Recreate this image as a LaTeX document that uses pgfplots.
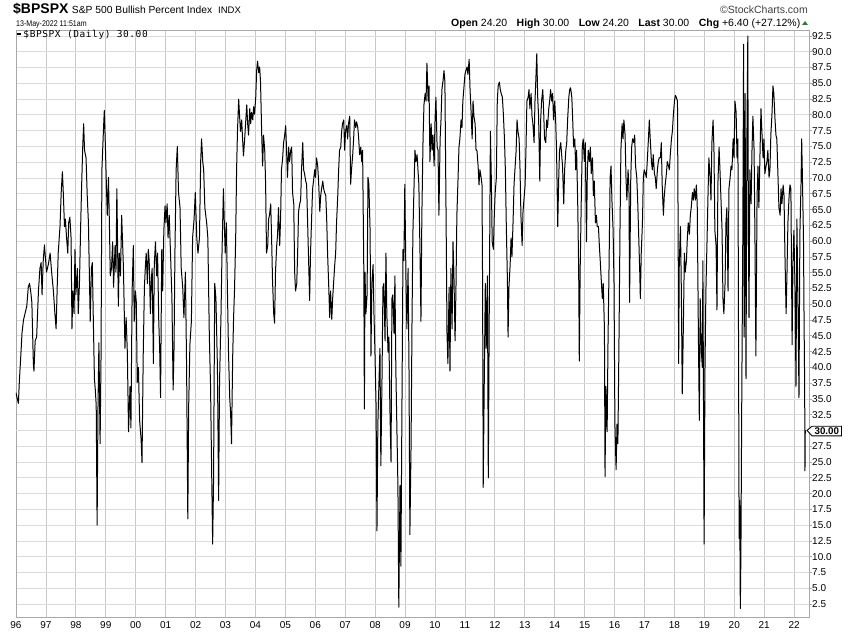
\documentclass[border=0pt]{standalone}
\usepackage{fontspec}
\setmainfont{Liberation Sans}
\newfontfamily\monofont[LetterSpace=6.1]{DejaVu Sans Mono}
\newfontfamily\narrowfont[FakeStretch=0.85]{Liberation Sans}
\usepackage{pgfplots}
\pgfplotsset{compat=1.18}

\definecolor{framegray}{HTML}{A8A8A8}
\definecolor{yeargrid}{HTML}{C8C8C8}
\definecolor{halfgrid}{HTML}{E4E4E4}
\definecolor{hgrid}{HTML}{DCDCDC}
\definecolor{upgreen}{HTML}{2E7D32}

\begin{document}
\begin{tikzpicture}
  \fill[white, use as bounding box] (-16pt,-16pt) rectangle (834pt,617pt);
  \begin{axis}[
    at={(0pt,0pt)}, anchor=south west,
    scale only axis,
    width=793pt, height=587pt,
    xmin=1996, xmax=2022.495,
    ymin=0.45, ymax=93.45,
    axis line style={draw=framegray},
    xtick={1996,1997,...,2022},
    xticklabels={96,97,98,99,00,01,02,03,04,05,06,07,08,09,10,11,12,13,14,15,16,17,18,19,20,21,22},
    minor x tick num=1,
    xmajorgrids, xminorgrids, ymajorgrids,
    major x grid style={draw=yeargrid, line width=0.8pt},
    minor x grid style={draw=halfgrid, line width=0.8pt},
    major y grid style={draw=hgrid, line width=0.8pt},
    % 30.0 is covered by the last-value tag, so it only gets a grid line
    ytick={2.5,5.0,...,27.5,32.5,35.0,...,92.5},
    extra y ticks={30},
    extra y tick labels={},
    extra y tick style={ytick style={draw=none}},
    yticklabel pos=right,
    ytick pos=right,
    tick align=outside,
    major tick length=3pt,
    minor tick length=0pt,
    xtick style={draw=none},
    ytick style={draw=framegray, line width=0.8pt},
    yticklabel style={anchor=west, inner sep=0pt, font=\fontsize{10}{12}\selectfont,
      /pgf/number format/.cd, fixed, fixed zerofill, precision=1, assume math mode=true},
    xticklabel style={anchor=north, inner sep=0pt, yshift=-1pt, font=\fontsize{10}{12}\selectfont},
  ]
  % S&P 500 Bullish Percent Index, daily
  \addplot[black, line width=1pt, line join=round] coordinates {
(1996.00,36.0)(1996.02,35.5)(1996.08,34.3)(1996.11,37.6)(1996.16,41.8)(1996.20,45.4)(1996.25,47.5)(1996.30,48.5)(1996.36,49.7)(1996.41,52.7)(1996.45,53.3)(1996.49,52.1)(1996.53,50.3)(1996.58,40.6)(1996.60,39.4)(1996.64,44.2)(1996.69,44.8)(1996.75,52.1)(1996.80,55.7)(1996.84,56.6)(1996.87,51.5)(1996.91,56.9)(1996.95,59.4)(1996.98,57.5)
(1997.02,55.1)(1997.08,56.3)(1997.14,58.1)(1997.19,55.1)(1997.25,52.1)(1997.30,48.5)(1997.34,46.1)(1997.38,53.3)(1997.41,58.1)(1997.47,62.3)(1997.51,67.7)(1997.55,71.0)(1997.58,67.7)(1997.62,62.3)(1997.65,63.5)(1997.69,60.5)(1997.73,58.1)(1997.76,62.9)(1997.80,63.8)(1997.84,60.5)(1997.87,46.1)(1997.90,52.1)(1997.94,48.5)(1997.97,58.7)
(1998.00,51.5)(1998.05,55.7)(1998.08,48.5)(1998.12,53.3)(1998.16,62.3)(1998.19,68.3)(1998.23,75.0)(1998.26,78.6)(1998.29,74.4)(1998.34,73.2)(1998.38,67.2)(1998.42,62.9)(1998.45,55.1)(1998.48,47.3)(1998.52,55.7)(1998.55,56.6)(1998.58,48.5)(1998.62,38.2)(1998.65,36.4)(1998.68,34.0)(1998.71,15.0)(1998.74,34.0)(1998.77,43.9)(1998.81,27.9)(1998.84,41.2)(1998.87,71.3)(1998.92,77.4)(1998.95,80.7)(1998.98,76.2)
(1999.02,68.9)(1999.05,64.1)(1999.09,70.1)(1999.12,62.9)(1999.15,54.5)(1999.19,55.7)(1999.23,59.9)(1999.26,52.7)(1999.31,59.3)(1999.34,55.1)(1999.37,68.3)(1999.42,49.7)(1999.45,58.1)(1999.49,54.5)(1999.53,64.1)(1999.59,55.7)(1999.64,43.0)(1999.68,47.9)(1999.72,42.4)(1999.76,29.8)(1999.81,37.0)(1999.84,30.4)(1999.88,52.1)(1999.92,59.3)(1999.95,47.3)(1999.99,52.1)
(2000.02,50.3)(2000.05,37.6)(2000.09,40.0)(2000.13,31.6)(2000.18,28.6)(2000.21,24.9)(2000.25,41.8)(2000.29,52.7)(2000.32,55.7)(2000.35,58.1)(2000.39,53.3)(2000.42,58.7)(2000.45,56.9)(2000.49,48.5)(2000.52,53.9)(2000.55,55.7)(2000.59,40.6)(2000.62,56.3)(2000.66,59.9)(2000.70,54.5)(2000.73,58.1)(2000.77,47.3)(2000.80,43.0)(2000.83,35.2)(2000.87,58.7)(2000.90,52.1)(2000.94,61.7)(2000.98,65.6)
(2001.01,62.9)(2001.05,65.9)(2001.08,60.5)(2001.12,64.1)(2001.17,56.9)(2001.21,50.9)(2001.25,36.4)(2001.28,43.0)(2001.31,58.1)(2001.35,71.3)(2001.39,75.0)(2001.43,67.7)(2001.48,65.3)(2001.52,55.7)(2001.57,52.7)(2001.61,47.9)(2001.66,55.1)(2001.70,40.0)(2001.74,16.0)(2001.77,34.0)(2001.81,43.6)(2001.86,47.3)(2001.90,60.5)(2001.95,63.5)(2001.99,67.7)
(2002.04,60.5)(2002.08,58.1)(2002.13,60.5)(2002.17,72.6)(2002.20,76.2)(2002.24,72.6)(2002.27,71.3)(2002.31,65.3)(2002.37,62.9)(2002.41,60.5)(2002.46,44.8)(2002.50,37.0)(2002.54,22.5)(2002.57,12.0)(2002.60,21.9)(2002.64,53.3)(2002.68,50.9)(2002.73,40.0)(2002.77,18.9)(2002.80,37.6)(2002.85,48.5)(2002.88,57.5)(2002.93,68.3)(2002.96,62.9)(2002.99,58.1)
(2003.03,62.9)(2003.06,53.3)(2003.10,42.4)(2003.14,35.2)(2003.17,32.8)(2003.20,27.9)(2003.24,41.8)(2003.27,47.9)(2003.30,52.1)(2003.34,60.5)(2003.37,71.3)(2003.40,77.4)(2003.44,82.5)(2003.47,79.8)(2003.50,77.4)(2003.54,79.2)(2003.57,76.2)(2003.60,73.5)(2003.64,76.2)(2003.67,78.6)(2003.71,81.6)(2003.74,78.6)(2003.77,76.8)(2003.81,81.0)(2003.84,78.6)(2003.87,80.4)(2003.91,79.2)(2003.94,81.3)(2003.97,80.1)
(2004.01,82.8)(2004.04,87.0)(2004.07,88.5)(2004.11,86.7)(2004.14,87.6)(2004.17,85.2)(2004.21,76.8)(2004.24,71.9)(2004.27,76.8)(2004.31,74.4)(2004.34,69.0)(2004.37,58.1)(2004.41,59.3)(2004.44,63.5)(2004.47,64.1)(2004.51,65.9)(2004.54,60.5)(2004.57,53.9)(2004.61,48.5)(2004.64,47.0)(2004.67,55.1)(2004.71,59.3)(2004.74,61.1)(2004.77,65.3)(2004.81,59.3)(2004.84,63.5)(2004.87,71.3)(2004.91,73.2)(2004.94,75.6)(2004.97,76.5)
(2005.01,78.3)(2005.04,74.4)(2005.07,70.1)(2005.11,74.9)(2005.14,72.6)(2005.18,74.4)(2005.21,74.9)(2005.24,67.7)(2005.28,65.9)(2005.31,55.1)(2005.34,52.1)(2005.38,53.3)(2005.41,58.1)(2005.44,64.7)(2005.48,65.9)(2005.51,66.5)(2005.54,71.3)(2005.58,75.6)(2005.61,71.3)(2005.64,70.7)(2005.68,69.5)(2005.71,69.0)(2005.74,63.5)(2005.78,56.3)(2005.81,50.6)(2005.84,58.1)(2005.88,64.1)(2005.91,68.3)(2005.94,69.5)(2005.98,71.3)
(2006.01,70.1)(2006.04,73.2)(2006.08,71.9)(2006.11,69.5)(2006.15,64.7)(2006.18,67.2)(2006.21,68.3)(2006.25,69.5)(2006.28,68.3)(2006.31,67.7)(2006.35,67.2)(2006.38,63.5)(2006.41,58.1)(2006.45,52.7)(2006.48,47.9)(2006.51,52.1)(2006.55,47.6)(2006.58,50.9)(2006.61,53.3)(2006.65,56.3)(2006.68,58.1)(2006.71,62.9)(2006.75,67.2)(2006.78,71.3)(2006.81,74.4)(2006.85,74.9)(2006.88,77.4)(2006.91,78.6)(2006.95,79.2)(2006.98,74.4)
(2007.01,77.4)(2007.05,78.3)(2007.08,76.2)(2007.11,78.6)(2007.15,79.8)(2007.18,69.0)(2007.21,71.3)(2007.25,73.7)(2007.28,76.2)(2007.31,79.2)(2007.35,78.0)(2007.38,78.9)(2007.42,78.0)(2007.45,76.2)(2007.48,73.7)(2007.52,74.9)(2007.55,72.6)(2007.58,74.4)(2007.62,55.7)(2007.64,33.4)(2007.66,55.1)(2007.69,48.5)(2007.73,51.5)(2007.76,70.1)(2007.79,69.0)(2007.83,61.7)(2007.86,41.8)(2007.89,53.3)(2007.93,56.3)(2007.96,48.5)(2007.99,43.0)
(2008.03,34.0)(2008.06,14.1)(2008.09,31.0)(2008.13,38.2)(2008.16,43.0)(2008.19,24.4)(2008.23,38.8)(2008.26,52.7)(2008.29,53.3)(2008.33,44.2)(2008.36,58.1)(2008.39,48.5)(2008.43,42.4)(2008.46,44.8)(2008.49,34.0)(2008.53,25.0)(2008.56,50.9)(2008.59,51.5)(2008.63,45.4)(2008.66,54.5)(2008.69,40.0)(2008.73,29.2)(2008.76,21.3)(2008.79,2.0)(2008.83,21.3)(2008.86,8.5)(2008.89,30.4)(2008.93,58.7)(2008.96,56.9)(2008.99,69.0)
(2009.03,53.9)(2009.06,46.1)(2009.10,55.7)(2009.13,40.0)(2009.16,13.5)(2009.20,27.9)(2009.23,46.7)(2009.26,61.1)(2009.30,69.0)(2009.33,74.4)(2009.36,72.6)(2009.40,73.7)(2009.43,71.3)(2009.46,69.0)(2009.50,57.5)(2009.53,47.3)(2009.56,64.1)(2009.60,76.2)(2009.63,81.6)(2009.67,83.4)(2009.70,82.2)(2009.73,88.2)(2009.77,82.2)(2009.80,84.6)(2009.83,72.6)(2009.87,78.6)(2009.90,74.4)(2009.93,76.8)(2009.97,71.9)
(2010.00,79.2)(2010.03,82.8)(2010.07,74.9)(2010.10,74.4)(2010.13,64.1)(2010.17,76.2)(2010.20,79.2)(2010.23,84.0)(2010.27,85.5)(2010.30,87.0)(2010.33,85.2)(2010.37,63.5)(2010.40,45.4)(2010.43,40.6)(2010.47,52.7)(2010.50,39.4)(2010.53,55.7)(2010.57,46.1)(2010.60,59.9)(2010.63,55.1)(2010.67,44.2)(2010.70,52.7)(2010.73,64.1)(2010.77,70.1)(2010.80,74.9)(2010.83,76.2)(2010.87,79.2)(2010.90,78.0)(2010.93,82.2)(2010.97,84.6)
(2011.00,86.4)(2011.03,87.0)(2011.07,87.6)(2011.10,86.4)(2011.14,88.8)(2011.17,84.0)(2011.20,81.0)(2011.24,76.2)(2011.27,82.2)(2011.30,79.8)(2011.34,78.6)(2011.37,74.4)(2011.40,74.4)(2011.44,71.9)(2011.47,68.9)(2011.50,71.3)(2011.54,70.1)(2011.57,68.9)(2011.59,52.1)(2011.61,21.0)(2011.65,40.0)(2011.68,53.3)(2011.71,43.0)(2011.75,54.5)(2011.78,22.5)(2011.81,47.3)(2011.85,77.4)(2011.88,70.1)(2011.91,59.9)(2011.95,58.7)(2011.98,64.1)
(2012.01,67.7)(2012.05,70.1)(2012.08,82.2)(2012.11,84.6)(2012.15,85.2)(2012.18,84.0)(2012.21,83.4)(2012.25,82.8)(2012.28,80.4)(2012.32,76.2)(2012.35,71.3)(2012.38,62.9)(2012.42,53.3)(2012.44,44.8)(2012.47,52.7)(2012.51,56.3)(2012.54,60.5)(2012.57,57.5)(2012.61,63.5)(2012.64,69.0)(2012.67,71.3)(2012.71,74.4)(2012.74,79.2)(2012.77,77.4)(2012.81,76.2)(2012.84,71.3)(2012.87,64.1)(2012.91,59.3)(2012.94,64.7)(2012.97,66.5)
(2013.01,68.9)(2013.04,74.9)(2013.07,82.2)(2013.11,82.8)(2013.14,84.0)(2013.17,81.0)(2013.21,83.4)(2013.24,79.8)(2013.27,78.6)(2013.31,75.6)(2013.34,82.2)(2013.37,85.8)(2013.40,89.7)(2013.43,82.8)(2013.46,79.8)(2013.50,69.5)(2013.53,79.2)(2013.56,82.2)(2013.60,84.0)(2013.63,80.4)(2013.66,76.2)(2013.70,75.6)(2013.73,79.2)(2013.76,78.0)(2013.80,81.0)(2013.83,82.2)(2013.86,84.0)(2013.90,82.2)(2013.93,83.4)(2013.96,79.2)
(2014.00,82.2)(2014.03,79.2)(2014.06,74.4)(2014.10,62.3)(2014.13,69.5)(2014.16,74.4)(2014.20,75.6)(2014.23,73.7)(2014.26,71.9)(2014.30,65.9)(2014.33,71.3)(2014.37,74.4)(2014.40,75.6)(2014.43,79.2)(2014.47,82.8)(2014.50,84.0)(2014.53,84.3)(2014.57,82.8)(2014.60,79.2)(2014.63,74.9)(2014.67,76.2)(2014.70,71.3)(2014.73,74.4)(2014.77,65.3)(2014.80,55.1)(2014.82,41.0)(2014.85,55.7)(2014.89,67.7)(2014.92,74.9)(2014.95,76.2)(2014.99,72.6)
(2015.02,75.6)(2015.06,59.9)(2015.09,71.3)(2015.12,74.4)(2015.16,72.6)(2015.19,74.9)(2015.22,70.7)(2015.26,73.2)(2015.29,67.2)(2015.32,69.5)(2015.36,62.9)(2015.39,64.1)(2015.42,62.3)(2015.46,62.3)(2015.49,59.3)(2015.52,56.9)(2015.56,53.3)(2015.59,50.9)(2015.62,53.3)(2015.66,46.1)(2015.68,22.7)(2015.71,37.0)(2015.75,29.8)(2015.78,44.2)(2015.81,54.5)(2015.85,70.1)(2015.88,71.9)(2015.91,66.5)(2015.95,61.7)(2015.98,53.3)
(2016.01,31.0)(2016.05,23.8)(2016.08,31.0)(2016.11,27.9)(2016.15,46.1)(2016.18,62.0)(2016.21,74.4)(2016.25,78.6)(2016.28,76.2)(2016.31,79.2)(2016.35,76.8)(2016.38,70.1)(2016.41,66.5)(2016.45,71.3)(2016.48,68.3)(2016.50,50.3)(2016.54,70.1)(2016.57,74.9)(2016.60,76.2)(2016.64,75.6)(2016.67,76.8)(2016.70,71.9)(2016.74,70.1)(2016.77,66.5)(2016.80,61.7)(2016.84,55.1)(2016.86,50.9)(2016.89,58.1)(2016.93,62.9)(2016.96,70.1)(2016.99,71.3)
(2017.03,70.7)(2017.06,70.1)(2017.09,72.6)(2017.13,76.2)(2017.16,79.2)(2017.19,76.2)(2017.23,72.6)(2017.26,71.3)(2017.29,73.7)(2017.33,70.7)(2017.36,70.1)(2017.39,68.3)(2017.43,71.3)(2017.46,72.6)(2017.49,73.2)(2017.53,73.2)(2017.56,75.6)(2017.59,68.9)(2017.63,64.1)(2017.66,67.2)(2017.69,68.9)(2017.73,70.7)(2017.76,72.6)(2017.80,71.9)(2017.83,71.3)(2017.86,73.7)(2017.90,76.2)(2017.93,77.4)(2017.96,79.8)
(2018.00,82.2)(2018.03,83.1)(2018.06,82.8)(2018.10,82.2)(2018.12,64.1)(2018.14,40.6)(2018.16,56.3)(2018.20,62.3)(2018.23,52.1)(2018.26,35.8)(2018.30,47.3)(2018.33,58.1)(2018.36,55.1)(2018.40,56.9)(2018.43,60.5)(2018.46,62.9)(2018.50,61.1)(2018.53,64.1)(2018.56,65.3)(2018.60,67.7)(2018.63,66.5)(2018.66,68.3)(2018.70,66.5)(2018.73,68.9)(2018.76,65.9)(2018.80,44.8)(2018.83,31.6)(2018.86,50.9)(2018.90,42.4)(2018.93,40.0)(2018.95,56.9)(2018.99,12.0)
(2019.02,40.0)(2019.05,52.1)(2019.09,60.5)(2019.12,67.2)(2019.15,73.2)(2019.19,70.1)(2019.22,66.5)(2019.25,75.6)(2019.29,79.2)(2019.32,74.4)(2019.35,61.7)(2019.39,59.3)(2019.42,49.1)(2019.45,68.9)(2019.49,74.9)(2019.52,71.3)(2019.55,67.2)(2019.59,61.7)(2019.62,50.9)(2019.65,48.5)(2019.69,53.3)(2019.72,62.9)(2019.75,65.3)(2019.79,52.1)(2019.82,68.3)(2019.86,70.1)(2019.89,71.9)(2019.92,71.3)(2019.96,76.2)(2019.99,73.2)
(2020.02,82.2)(2020.06,80.4)(2020.09,73.2)(2020.12,76.2)(2020.16,12.9)(2020.18,18.9)(2020.20,1.8)(2020.22,10.5)(2020.25,36.4)(2020.28,58.1)(2020.31,91.2)(2020.33,44.8)(2020.36,83.4)(2020.39,38.2)(2020.42,76.2)(2020.45,92.5)(2020.47,61.7)(2020.49,47.9)(2020.52,71.3)(2020.56,65.9)(2020.59,74.4)(2020.62,79.8)(2020.66,74.4)(2020.69,59.9)(2020.72,41.8)(2020.76,67.2)(2020.79,71.9)(2020.82,65.3)(2020.86,74.4)(2020.89,81.0)(2020.92,77.4)(2020.96,73.2)(2020.99,76.2)
(2021.02,70.7)(2021.06,71.9)(2021.09,72.6)(2021.12,74.4)(2021.16,70.1)(2021.19,71.3)(2021.22,76.8)(2021.26,80.4)(2021.29,84.6)(2021.32,83.4)(2021.36,79.2)(2021.39,76.8)(2021.42,76.2)(2021.46,70.1)(2021.49,65.3)(2021.53,64.1)(2021.56,68.3)(2021.59,65.9)(2021.63,68.9)(2021.66,67.2)(2021.69,58.1)(2021.73,48.5)(2021.76,55.1)(2021.79,62.9)(2021.83,67.2)(2021.86,68.9)(2021.89,68.3)(2021.93,43.6)(2021.96,56.9)(2021.99,61.7)
(2022.03,52.1)(2022.06,37.0)(2022.09,63.5)(2022.13,48.5)(2022.16,35.2)(2022.19,61.1)(2022.23,69.5)(2022.25,76.2)(2022.27,71.3)(2022.31,60.5)(2022.33,47.3)(2022.35,37.0)(2022.36,23.6)(2022.37,30.0)
  };
  \end{axis}
  % header, left
  \node[anchor=base west, inner sep=0pt] at (-3pt,603.5pt) {\fontsize{14}{14}\selectfont\bfseries \$BPSPX};
  \node[anchor=base west, inner sep=0pt] at (55.7pt,603.7pt) {\fontsize{10.3}{12}\selectfont S\&P 500 Bullish Percent Index};
  \node[anchor=base west, inner sep=0pt] at (202pt,603.7pt) {\fontsize{9.5}{10}\selectfont INDX};
  \node[anchor=base west, inner sep=0pt] at (0pt,590.3pt) {\narrowfont\fontsize{8.3}{10}\selectfont 13-May-2022 11:51am};
  % legend entry
  \draw[black, line width=2pt] (1.3pt,583.3pt) -- (4.7pt,583.3pt);
  \node[anchor=base west, inner sep=0pt] at (7.3pt,579.3pt) {\monofont\fontsize{9.5}{10}\selectfont \$BPSPX (Daily) 30.00};
  % header, right
  \node[anchor=base east, inner sep=0pt, text=black!75] at (792pt,603.7pt) {\fontsize{10.5}{12}\selectfont \textcopyright StockCharts.com};
  \node[anchor=base east, inner sep=0pt] at (784.5pt,590.3pt) {\fontsize{10.5}{12}\selectfont
    \textbf{Open} 24.20\hspace{9.5pt}\textbf{High} 30.00\hspace{9.5pt}\textbf{Low} 24.20\hspace{9.5pt}\textbf{Last} 30.00\hspace{9.5pt}\textbf{Chg} +6.40 (+27.12\%)};
  \fill[upgreen] (786pt,592pt) -- (792pt,592pt) -- (789pt,596pt) -- cycle;
  % last value tag
  \draw[black, line width=0.9pt, fill=white] (791pt,186.5pt) -- (796pt,190.8pt) -- (825.5pt,190.8pt) -- (825.5pt,181.2pt) -- (796pt,181.2pt) -- cycle;
  \node[inner sep=0pt] at (810.8pt,186pt) {\fontsize{9.8}{10}\selectfont\bfseries 30.00};
\end{tikzpicture}
\end{document}
